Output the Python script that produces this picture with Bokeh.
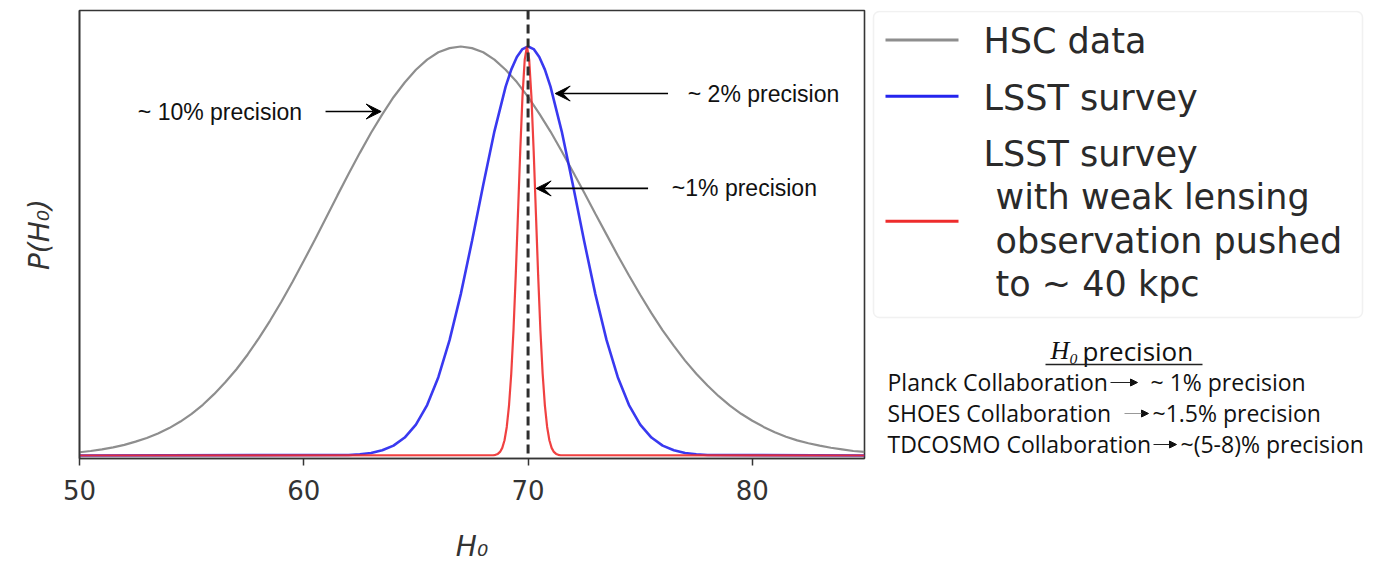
from bokeh.plotting import figure
from bokeh.layouts import row
from bokeh.models import Range1d, Span, Arrow, VeeHead, NormalHead, BoxAnnotation
from bokeh.core.properties import value
from bokeh.embed import file_html
from bokeh.resources import INLINE

# ---------------- data ----------------
hsc_h0 = [50.0, 50.5, 51.0, 51.5, 52.0, 52.5, 53.0, 53.5, 54.0, 54.5,
          55.0, 55.5, 56.0, 56.5, 57.0, 57.5, 58.0, 58.5, 59.0, 59.5,
          60.0, 60.5, 61.0, 61.5, 62.0, 62.5, 63.0, 63.5, 64.0, 64.5,
          65.0, 65.5, 66.0, 66.5, 67.0, 67.5, 68.0, 68.5, 69.0, 69.5,
          70.0, 70.5, 71.0, 71.5, 72.0, 72.5, 73.0, 73.5, 74.0, 74.5,
          75.0, 75.5, 76.0, 76.5, 77.0, 77.5, 78.0, 78.5, 79.0, 79.5,
          80.0, 80.5, 81.0, 81.5, 82.0, 82.5, 83.0, 83.5, 84.0, 84.5,
          85.0]
hsc_p = [0.008, 0.011, 0.015, 0.020, 0.026, 0.034, 0.043, 0.054, 0.067, 0.083,
         0.102, 0.124, 0.150, 0.179, 0.211, 0.247, 0.287, 0.330, 0.376, 0.425,
         0.476, 0.528, 0.582, 0.636, 0.689, 0.740, 0.789, 0.834, 0.876, 0.912,
         0.943, 0.968, 0.986, 0.996, 1.000, 0.996, 0.986, 0.968, 0.943, 0.913,
         0.877, 0.836, 0.792, 0.744, 0.694, 0.643, 0.591, 0.540, 0.489, 0.440,
         0.393, 0.348, 0.306, 0.268, 0.232, 0.200, 0.171, 0.145, 0.122, 0.102,
         0.085, 0.070, 0.057, 0.046, 0.037, 0.030, 0.024, 0.019, 0.015, 0.011,
         0.009]

lsst_h0 = [50.0, 62.0, 62.5, 63.0, 63.5, 64.0, 64.5, 65.0, 65.5, 66.0,
           66.5, 67.0, 67.5, 68.0, 68.5, 69.0, 69.25, 69.5, 69.75, 70.0,
           70.25, 70.5, 70.75, 71.0, 71.5, 72.0, 72.5, 73.0, 73.5, 74.0,
           74.5, 75.0, 75.5, 76.0, 76.5, 77.0, 77.5, 78.0, 85.0]
lsst_p = [0.0, 0.0013, 0.0030, 0.0063, 0.0127, 0.0243, 0.0439, 0.0756, 0.1234, 0.1915,
          0.2821, 0.3946, 0.5243, 0.6615, 0.7926, 0.9018, 0.9435, 0.9745, 0.9936, 1.0,
          0.9936, 0.9745, 0.9435, 0.9018, 0.7926, 0.6615, 0.5243, 0.3946, 0.2821, 0.1915,
          0.1234, 0.0756, 0.0439, 0.0243, 0.0127, 0.0063, 0.0030, 0.0013, 0.0]

wl_h0 = [50.0, 68.45, 68.55, 68.65, 68.75, 68.85, 68.95, 69.05, 69.15, 69.25,
         69.35, 69.45, 69.55, 69.65, 69.75, 69.85, 69.95, 70.05, 70.15, 70.25,
         70.35, 70.45, 70.55, 70.65, 70.75, 70.85, 70.95, 71.05, 71.15, 71.25,
         71.35, 71.45, 85.0]
wl_p = [0.0, 0.0006, 0.0016, 0.0039, 0.0088, 0.0187, 0.0374, 0.0698, 0.1220, 0.1998,
        0.3062, 0.4397, 0.5910, 0.7439, 0.8768, 0.9677, 1.0, 0.9677, 0.8768, 0.7439,
        0.5910, 0.4397, 0.3062, 0.1998, 0.1220, 0.0698, 0.0374, 0.0187, 0.0088, 0.0039,
        0.0016, 0.0006, 0.0]

x_ticks = [50, 60, 70, 80]
true_h0 = 70

series_labels = ["HSC data", "LSST survey", "LSST survey"]
series_label_extra = ["with weak lensing", "observation pushed", "to ~ 40 kpc"]
series_colors = ["#8e8e8e", "#2424ee", "#ee2c2c"]

ann_text = ["~ 10% precision", "~ 2% precision", "~1% precision"]
ann_x = [52.6, 77.12, 76.41]
ann_y = [0.841, 0.885, 0.653]
arrow_x_start = [60.97, 76.24, 75.35]
arrow_x_end = [63.45, 71.21, 70.36]

table_title = "precision"
table_left = ["Planck Collaboration", "SHOES Collaboration", "TDCOSMO Collaboration"]
table_right = ["~ 1% precision", "~1.5% precision", "~(5-8)% precision"]

# ---------------- main plot ----------------
p = figure(width=868, height=569, x_range=Range1d(50, 85), y_range=Range1d(-0.0073, 1.088),
           output_backend="svg", toolbar_location=None,
           min_border_left=79, min_border_right=4, min_border_top=10, min_border_bottom=111)
p.xgrid.visible = False
p.ygrid.visible = False
p.background_fill_color = "white"
p.border_fill_color = "white"
p.outline_line_color = "#353535"
p.outline_line_width = 1.6

p.line(hsc_h0, hsc_p, line_color=series_colors[0], line_width=2.2)
p.line(lsst_h0, lsst_p, line_color=series_colors[1], line_width=2.6, line_alpha=0.9)
p.line(wl_h0, wl_p, line_color=series_colors[2], line_width=2.2, line_alpha=0.9)

p.add_layout(Span(location=true_h0, dimension="height", line_color="#2e2e2e",
                  line_width=3, line_dash="9 5"))

p.text(x=ann_x, y=ann_y, text=ann_text, text_font=value("Liberation Sans"),
       text_font_size="23px", text_baseline="middle", text_align="left", text_color="#111111")
for xs, xe, yy in zip(arrow_x_start, arrow_x_end, ann_y):
    p.add_layout(Arrow(end=VeeHead(size=15, fill_color="black", line_color="black"),
                       x_start=xs, y_start=yy, x_end=xe, y_end=yy,
                       line_color="black", line_width=1.6))

p.xaxis.ticker = x_ticks
p.xaxis.minor_tick_line_color = None
p.xaxis.major_tick_in = 0
p.xaxis.major_tick_out = 7
p.xaxis.major_tick_line_width = 1.5
p.xaxis.major_tick_line_color = "#353535"
p.xaxis.axis_line_color = "#353535"
p.xaxis.axis_line_width = 1.6
p.xaxis.major_label_text_font = "DejaVu Sans"
p.xaxis.major_label_text_font_size = "26px"
p.xaxis.major_label_text_color = "#333333"
p.xaxis.major_label_standoff = 14
p.xaxis.axis_label = "H₀"
p.xaxis.axis_label_text_font = "DejaVu Sans"
p.xaxis.axis_label_text_font_style = "italic"
p.xaxis.axis_label_text_font_size = "28px"
p.xaxis.axis_label_text_color = "#333333"
p.xaxis.axis_label_standoff = 27

p.yaxis.ticker = []
p.yaxis.minor_tick_line_color = None
p.yaxis.major_tick_line_color = None
p.yaxis.axis_line_color = "#353535"
p.yaxis.axis_line_width = 1.6
p.yaxis.axis_label = "P(H₀)"
p.yaxis.axis_label_text_font = "DejaVu Sans"
p.yaxis.axis_label_text_font_style = "italic"
p.yaxis.axis_label_text_font_size = "28px"
p.yaxis.axis_label_text_color = "#333333"
p.yaxis.axis_label_standoff = 24

# ---------------- side panel: legend + precision table (page pixel coordinates) ----------------
q = figure(width=515, height=569, x_range=Range1d(868, 1383), y_range=Range1d(458, 10),
           output_backend="svg", toolbar_location=None,
           x_axis_location=None, y_axis_location=None,
           min_border_left=0, min_border_right=0, min_border_top=10, min_border_bottom=111)
q.xgrid.visible = False
q.ygrid.visible = False
q.outline_line_color = None
q.background_fill_color = "white"
q.border_fill_color = "white"

q.add_layout(BoxAnnotation(left=873, right=1362, top=11, bottom=317, fill_color="white",
                           fill_alpha=1.0, line_color="#d2d2d2", line_width=1.5,
                           border_radius=6, level="underlay"))
q.segment(x0=[885, 885, 885], y0=[39.5, 95.7, 220.7], x1=[958, 958, 958],
          y1=[39.5, 95.7, 220.7], line_color=series_colors, line_width=3)
q.text(x=[983, 983, 983, 995, 995, 995], y=[40, 97, 153, 196.5, 240, 283.5],
       text=series_labels + series_label_extra, text_font=value("DejaVu Sans"),
       text_font_size="35px", text_baseline="middle", text_align="left",
       text_color="#2a2a2a")

# table title
q.text(x=[1050], y=[350], text=["H₀"], text_font=value("Liberation Serif"),
       text_font_style="italic", text_font_size="26px", text_baseline="middle",
       text_align="left", text_color="#111111")
q.text(x=[1082], y=[350], text=[table_title], text_font=value("Open Sans"),
       text_font_size="26px", text_baseline="middle", text_align="left",
       text_color="#111111")
q.segment(x0=[1045], y0=[364], x1=[1202], y1=[364], line_color="#222222", line_width=1.5)

row_y = [381, 412, 443]
q.text(x=[887, 887, 887], y=row_y, text=table_left, text_font=value("Open Sans"),
       text_font_size="23px", text_baseline="middle", text_align="left",
       text_color="#111111")
q.text(x=[1150, 1152, 1180], y=row_y, text=table_right, text_font=value("Open Sans"),
       text_font_size="23px", text_baseline="middle", text_align="left",
       text_color="#111111")
for xs, xe, yy, lc in zip([1110, 1124, 1153], [1137, 1148, 1176], row_y,
                          ["#222222", "#999999", "#222222"]):
    q.add_layout(Arrow(end=NormalHead(size=7, fill_color="#111111", line_color="#111111"),
                       x_start=xs, y_start=yy + 1, x_end=xe, y_end=yy + 1,
                       line_color=lc, line_width=1.2))

layout = row(p, q)
open("out.html", "w").write(file_html(layout, INLINE))
